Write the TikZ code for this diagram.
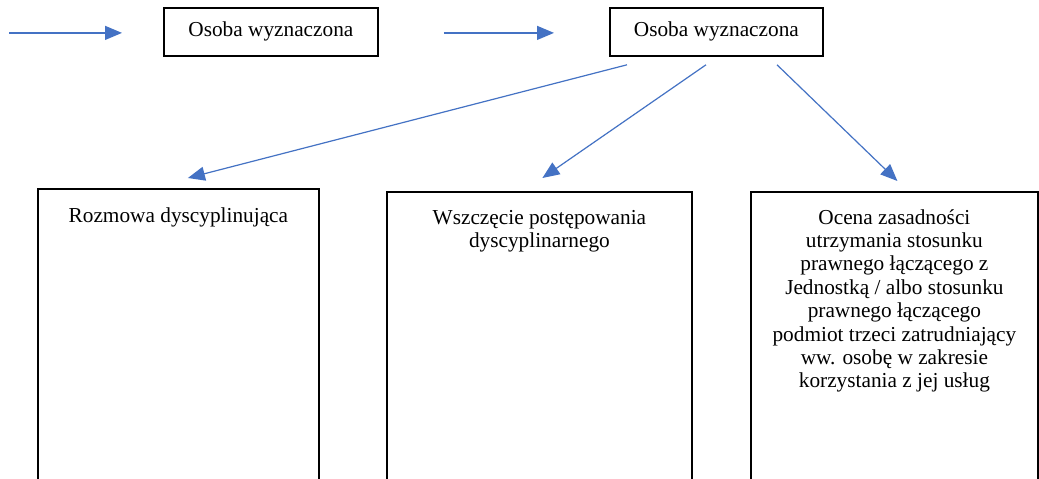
\documentclass[tikz,border=0pt]{standalone}
\usepackage{fontspec}
\setmainfont{Liberation Serif}
\usetikzlibrary{arrows.meta,calc}
\definecolor{arrblue}{HTML}{4472C4}
\begin{document}
\begin{tikzpicture}[x=1pt,y=-1pt,
  txtfont/.style={font=\fontsize{21.3}{23.4}\selectfont},
  topbox/.style={draw,line width=1.8pt,minimum height=48pt,inner sep=0pt,anchor=north west,txtfont},
  lowbox/.style={draw,line width=1.8pt,inner sep=0pt,anchor=north west},
  lowtext/.style={inner sep=0pt,anchor=base,txtfont},
  conn/.style={draw=arrblue,line width=1.2pt,-{Triangle[length=17pt,width=14pt]}}]
\useasboundingbox (0,0) rectangle (1039,479);
\fill[white] (0,0) rectangle (1039,479);
% top boxes
\node[topbox,minimum width=214pt] (t1) at (163,7) {Osoba wyznaczona};
\node[topbox,minimum width=213pt] (t2) at (609,7) {Osoba wyznaczona};
% lower boxes
\node[lowbox,minimum width=281pt,minimum height=291.8pt] (b1) at (37,188) {};
\node[lowbox,minimum width=305pt,minimum height=288.8pt] (b2) at (386,191) {};
\node[lowbox,minimum width=287pt,minimum height=288.8pt] (b3) at (750,191) {};
\node[lowtext] (l1) at ($(b1.north)+(0,34)$) {\begin{tabular}[t]{@{}c@{}}Rozmowa dyscyplinująca\end{tabular}};
\node[lowtext] (l2) at ($(b2.north)+(0,33)$) {\begin{tabular}[t]{@{}c@{}}Wszczęcie postępowania\\dyscyplinarnego\end{tabular}};
\node[lowtext] (l3) at ($(b3.north)+(0,33)$) {\begin{tabular}[t]{@{}c@{}}Ocena zasadności\\utrzymania stosunku\\prawnego łączącego z\\Jednostką / albo stosunku\\prawnego łączącego\\podmiot trzeci zatrudniający\\ww. osobę w zakresie\\korzystania z jej usług\end{tabular}};
% arrows
\coordinate (s0) at ($(t1.west)+(-154,1)$);
\draw[conn] (s0) -- ($(t1.west)+(-41,1)$);
\draw[conn] ($(t1.east)+(65,1)$) -- ($(t2.west)+(-55,1)$);
\draw[conn] ($(t2.south west)+(18,8)$) -- ($(b1.north)+(9.5,-10)$);
\draw[conn] ($(t2.south west)+(97,8)$) -- ($(b2.north)+(3,-13)$);
\draw[conn] ($(t2.south west)+(168,8)$) -- ($(b3.north)+(3,-10)$);
\end{tikzpicture}
\end{document}
